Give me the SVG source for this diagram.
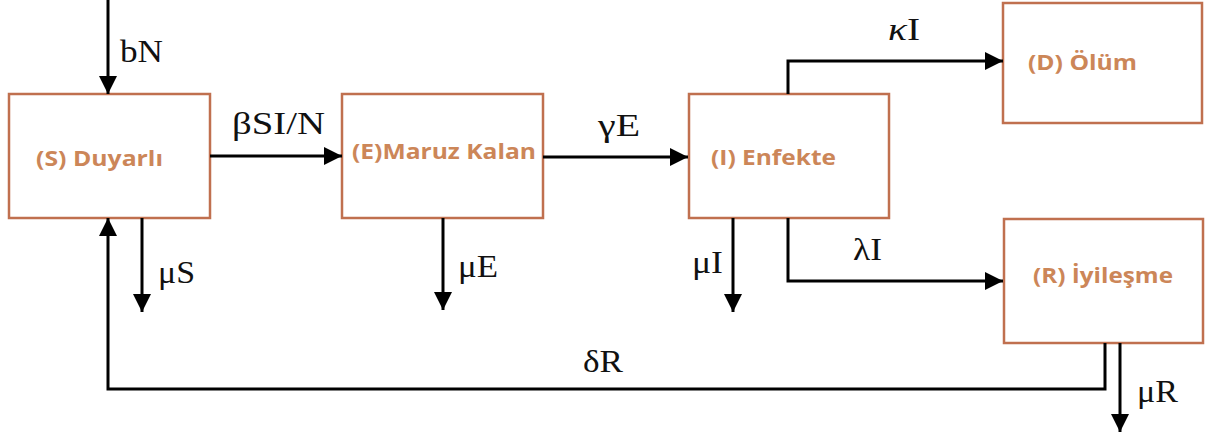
<svg xmlns="http://www.w3.org/2000/svg" width="1205" height="436" viewBox="0 0 1205 436">
<style>
.box{fill:#fff;stroke:#c0704f;stroke-width:2.5}
.bt{font-family:"Open Sans","Liberation Sans",sans-serif;font-weight:bold;font-size:22px;fill:#cc8658}
.ln{fill:none;stroke:#000;stroke-width:3}
.lb{font-family:"Liberation Serif","DejaVu Serif",serif;font-size:32px;fill:#111}
</style>
<defs>
<marker id="ah" viewBox="0 0 10 10" refX="10" refY="5" markerWidth="6" markerHeight="6" markerUnits="strokeWidth" orient="auto">
<path d="M0,0L10,5L0,10z" fill="#000"/>
</marker>
</defs>
<rect width="1205" height="436" fill="#fff"/>
<g id="node-S"><rect class="box" x="9" y="94" width="201" height="124"/><text class="bt" x="36" y="166" textLength="127" lengthAdjust="spacingAndGlyphs">(S) Duyarlı</text></g>
<g id="node-E"><rect class="box" x="342" y="94" width="201" height="124"/><text class="bt" x="352" y="159" textLength="184" lengthAdjust="spacingAndGlyphs">(E)Maruz Kalan</text></g>
<g id="node-I"><rect class="box" x="689" y="94" width="200" height="124"/><text class="bt" x="711" y="165" textLength="125" lengthAdjust="spacingAndGlyphs">(I) Enfekte</text></g>
<g id="node-D"><rect class="box" x="1003" y="3" width="199" height="120"/><text class="bt" x="1028" y="70" textLength="109" lengthAdjust="spacingAndGlyphs">(D) Ölüm</text></g>
<g id="node-R"><rect class="box" x="1004" y="219" width="199" height="124"/><text class="bt" x="1033" y="283" textLength="140" lengthAdjust="spacingAndGlyphs">(R) İyileşme</text></g>
<g id="connectors">
<path class="ln" d="M108,0V94" marker-end="url(#ah)"/>
<path class="ln" d="M210,156H342" marker-end="url(#ah)"/>
<path class="ln" d="M543,157H688" marker-end="url(#ah)"/>
<path class="ln" d="M788,94V61H1003" marker-end="url(#ah)"/>
<path class="ln" d="M788,218V281H1003" marker-end="url(#ah)"/>
<path class="ln" d="M142,218V312" marker-end="url(#ah)"/>
<path class="ln" d="M443,218V310" marker-end="url(#ah)"/>
<path class="ln" d="M733,218V312" marker-end="url(#ah)"/>
<path class="ln" d="M1120,343V432" marker-end="url(#ah)"/>
<path class="ln" d="M1105,343V389H108V218" marker-end="url(#ah)"/>
<text class="lb" x="120" y="62" textLength="43" lengthAdjust="spacingAndGlyphs">bN</text>
<text class="lb" x="232" y="134" textLength="93" lengthAdjust="spacingAndGlyphs">βSI/N</text>
<text class="lb" x="598" y="136" textLength="42" lengthAdjust="spacingAndGlyphs">γE</text>
<text class="lb" x="888" y="40" textLength="32" lengthAdjust="spacingAndGlyphs"><tspan font-style="italic">κ</tspan>I</text>
<text class="lb" x="853" y="260" textLength="29" lengthAdjust="spacingAndGlyphs">λI</text>
<text class="lb" x="158" y="283" textLength="37" lengthAdjust="spacingAndGlyphs">μS</text>
<text class="lb" x="458" y="277" textLength="40" lengthAdjust="spacingAndGlyphs">μE</text>
<text class="lb" x="692" y="273" textLength="31" lengthAdjust="spacingAndGlyphs">μI</text>
<text class="lb" x="583" y="372" textLength="40" lengthAdjust="spacingAndGlyphs">δR</text>
<text class="lb" x="1137" y="402" textLength="41" lengthAdjust="spacingAndGlyphs">μR</text>
</g>
</svg>
